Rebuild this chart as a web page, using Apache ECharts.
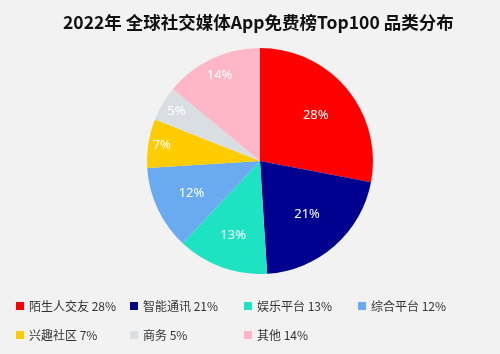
<!DOCTYPE html>
<html><head><meta charset="utf-8">
<script src="https://cdn.jsdelivr.net/npm/echarts@6/dist/echarts.min.js"></script>
<style>html,body{margin:0;padding:0;background:#f2f2f2;}#c{width:500px;height:354px;}</style>
</head><body><div id="c"></div>
<script>
const titleText = '2022年 全球社交媒体App免费榜Top100 品类分布';
const categories = ['陌生人交友', '智能通讯', '娱乐平台', '综合平台', '兴趣社区', '商务', '其他'];
const values = [28, 21, 13, 12, 7, 5, 14];
const colors = ['#ff0000', '#00008f', '#1ee3c3', '#6aaaf0', '#ffcc00', '#d9dee3', '#ffb6c6'];
// label distance from centre as fraction of radius (styling only)
const labelFrac = [0.64, 0.63, 0.70, 0.67, 0.88, 0.86, 0.84];

const CX = 260, CY = 161, R = 113;
const legends = categories.map((name, i) => ({
  data: [name],
  left: 11 + 114 * (i % 4), top: 295 + 29 * Math.floor(i / 4),
  itemWidth: 8, itemHeight: 8, itemGap: 4, icon: 'rect',
  textStyle: {fontSize: 12, color: '#333', fontFamily: 'Noto Sans CJK SC'},
  formatter: function (n) {
    return n + ' ' + values[categories.indexOf(n)] + '%';
  }
}));
const chart = echarts.init(document.getElementById('c'));
chart.setOption({
  backgroundColor: '#f2f2f2',
  title: {
    text: titleText, left: 58, top: 9,
    textStyle: {fontSize: 17.5, fontWeight: 'bold', color: '#111', fontFamily: 'Noto Sans CJK SC'}
  },
  color: colors,
  legend: legends,
  series: [{
    type: 'pie',
    center: [CX, CY], radius: R,
    startAngle: 90, clockwise: true,
    label: {
      position: 'inside', formatter: '{c}%', color: '#fff', fontSize: 13,
      fontFamily: 'Noto Sans'
    },
    labelLayout: function (p) {
      const r = p.labelRect;
      const lx = r.x + r.width / 2, ly = r.y + r.height / 2;
      const dx = lx - CX, dy = ly - CY;
      const d = Math.sqrt(dx * dx + dy * dy) || 1;
      const t = labelFrac[p.dataIndex] * R / d;
      return {x: CX + dx * t, y: CY + dy * t, align: 'center', verticalAlign: 'middle'};
    },
    labelLine: {show: false},
    emphasis: {disabled: true},
    data: categories.map((c, i) => ({name: c, value: values[i]}))
  }]
});
</script></body></html>
